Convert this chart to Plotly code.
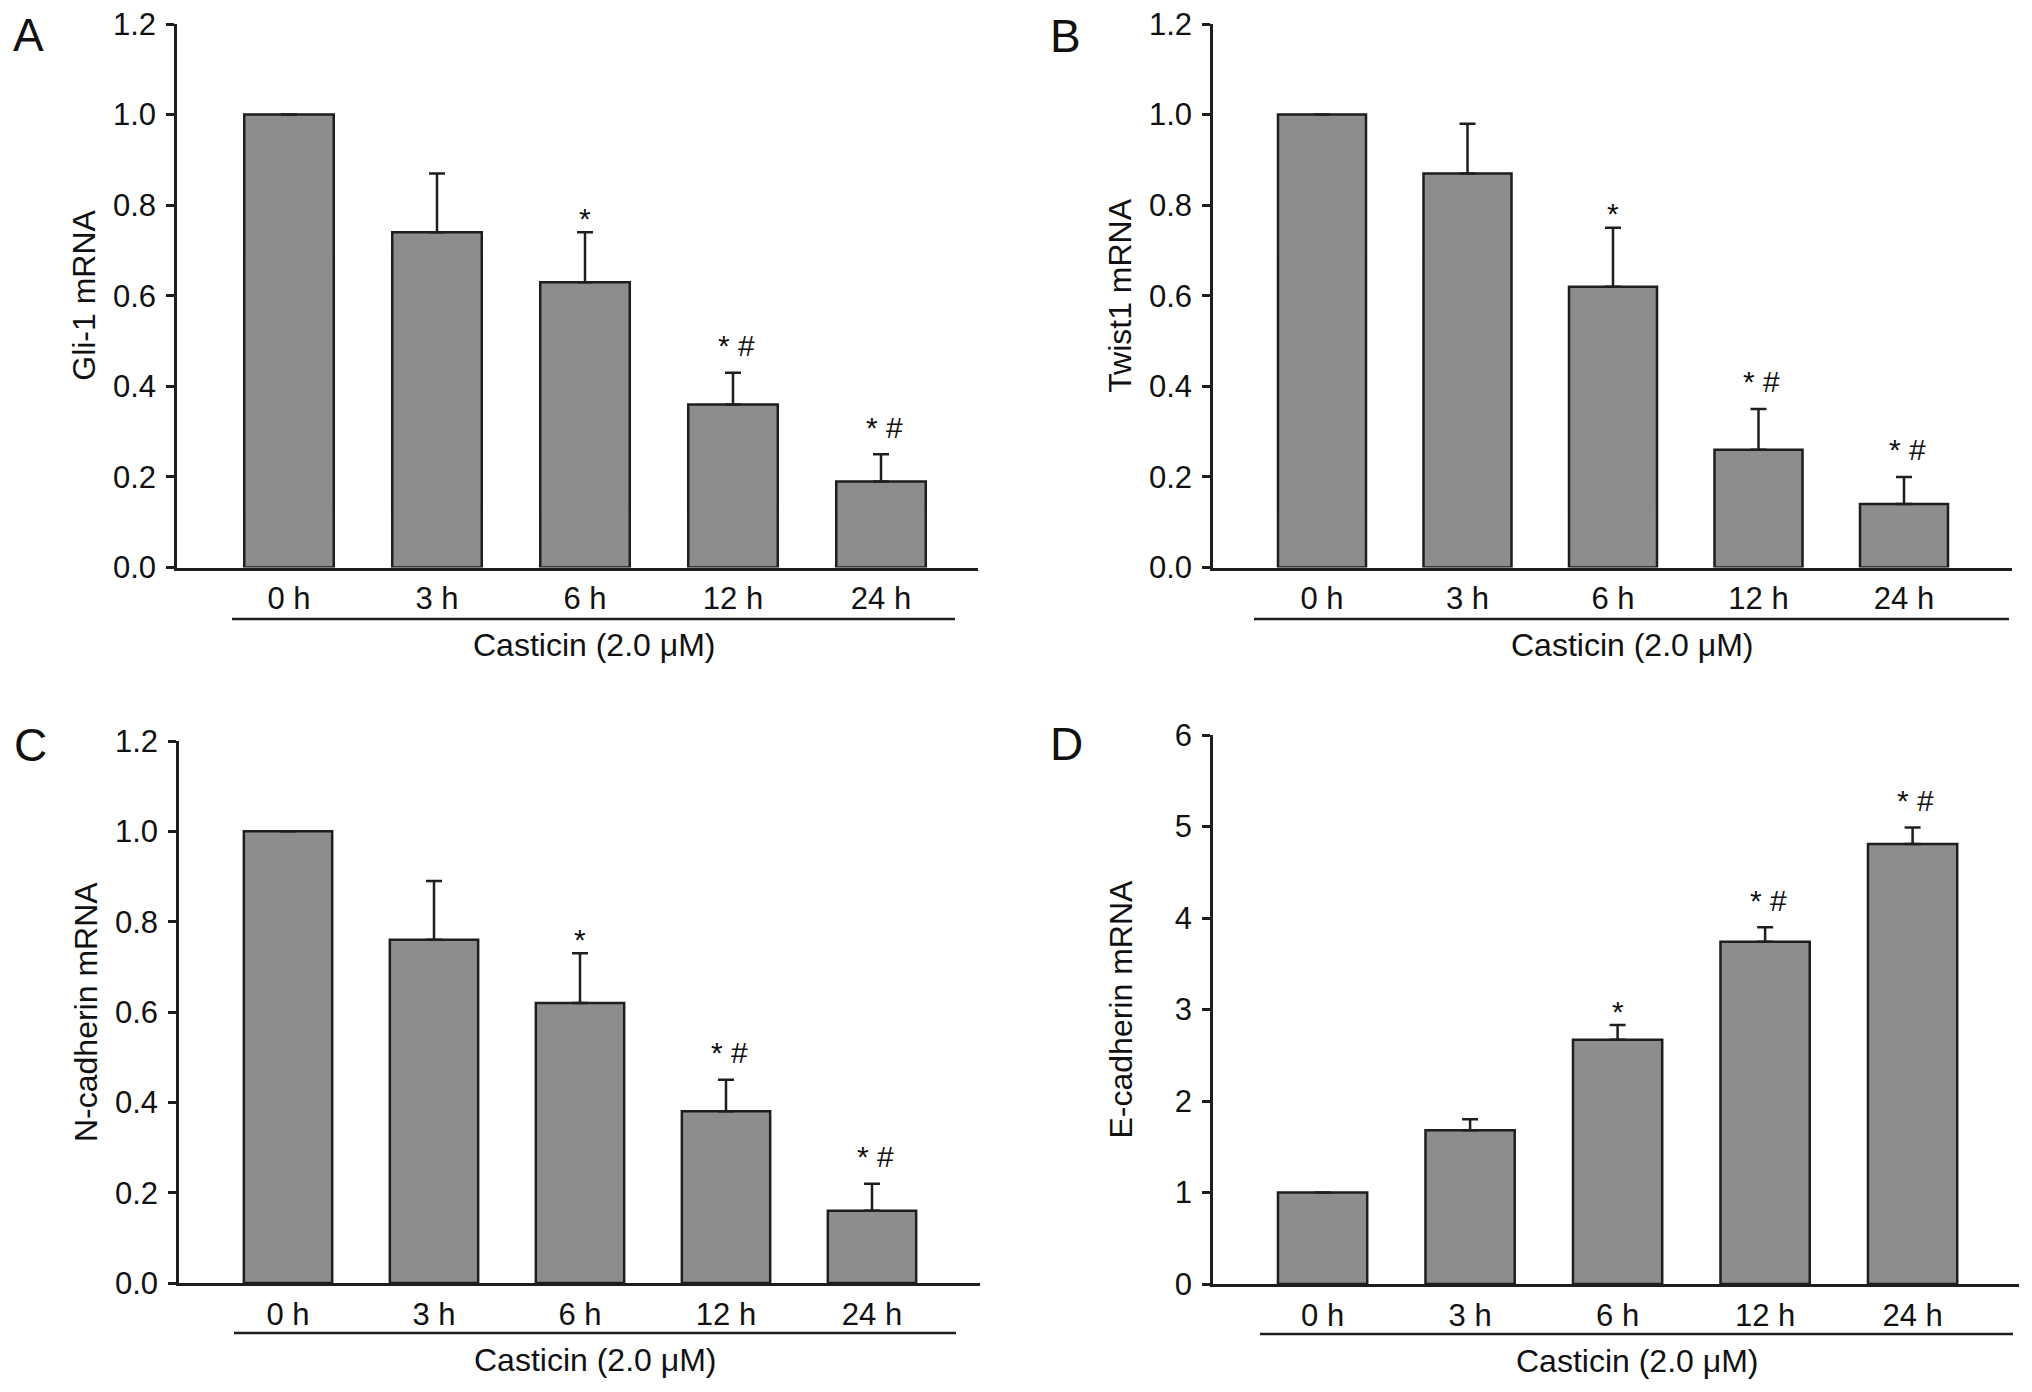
import plotly.graph_objects as go

PAGE_W, PAGE_H = 2032, 1392
OFF = 8  # default body margin of the written page
W, H = PAGE_W - 2 * OFF, PAGE_H - 2 * OFF

categories = ["0 h", "3 h", "6 h", "12 h", "24 h"]

gli1_mean = [1.00, 0.74, 0.63, 0.36, 0.19]
gli1_err = [0.00, 0.13, 0.11, 0.07, 0.06]
twist1_mean = [1.00, 0.87, 0.62, 0.26, 0.14]
twist1_err = [0.00, 0.11, 0.13, 0.09, 0.06]
ncad_mean = [1.00, 0.76, 0.62, 0.38, 0.16]
ncad_err = [0.00, 0.13, 0.11, 0.07, 0.06]
ecad_mean = [1.00, 1.68, 2.67, 3.74, 4.81]
ecad_err = [0.00, 0.12, 0.16, 0.16, 0.18]

significance = ["", "", "*", "* #", "* #"]

panel_letters = ["A", "B", "C", "D"]
y_titles = ["Gli-1 mRNA", "Twist1 mRNA", "N-cadherin mRNA", "E-cadherin mRNA"]
y_ranges = [[0, 1.2], [0, 1.2], [0, 1.2], [0, 6]]
y_ticks = [[0, 0.2, 0.4, 0.6, 0.8, 1.0, 1.2]] * 3 + [[0, 1, 2, 3, 4, 5, 6]]
y_ticktext = [["0.0", "0.2", "0.4", "0.6", "0.8", "1.0", "1.2"]] * 3 + [["0", "1", "2", "3", "4", "5", "6"]]
treatment_label = "Casticin (2.0 \u03bcM)"

means = [gli1_mean, twist1_mean, ncad_mean, ecad_mean]
errs = [gli1_err, twist1_err, ncad_err, ecad_err]

# layout geometry in page pixels: y-axis x, x-axis end, top, bottom, first bar centre, spacing, bracket
geom = [
    dict(x0=177, x1=978, yt=24, yb=567.5, c0=289, sp=148, b0=232, b1=955, by=619, lx=28, ly=35),
    dict(x0=1213, x1=2012, yt=24, yb=567.5, c0=1322, sp=145.5, b0=1254, b1=2009, by=619, lx=1065, ly=36),
    dict(x0=179, x1=980, yt=741, yb=1283, c0=288, sp=146, b0=234, b1=956, by=1333, lx=30, ly=745),
    dict(x0=1213, x1=2019, yt=735, yb=1284, c0=1322.6, sp=147.5, b0=1260, b1=2013, by=1334, lx=1066, ly=744),
]


def px(x):
    return (x - OFF) / W


def py(y):
    return 1 - (y - OFF) / H


FONT = "Liberation Sans, Arial, Helvetica, sans-serif"
INK = "#1e1e1e"

fig = go.Figure()
annotations = []
shapes = []

for i in range(4):
    g = geom[i]
    xa = "x" if i == 0 else f"x{i+1}"
    ya = "y" if i == 0 else f"y{i+1}"
    xkey = "xaxis" if i == 0 else f"xaxis{i+1}"
    ykey = "yaxis" if i == 0 else f"yaxis{i+1}"

    fig.add_trace(go.Bar(
        x=categories, y=means[i], xaxis=xa, yaxis=ya,
        width=0.605,
        marker=dict(color="#8d8d8d", line=dict(color=INK, width=2.5)),
        error_y=dict(type="data", symmetric=False, array=errs[i],
                     arrayminus=[0] * len(categories),
                     color=INK, thickness=2.5, width=8),
        showlegend=False, hoverinfo="skip",
    ))

    xr = [(g["x0"] - g["c0"]) / g["sp"], (g["x1"] - g["c0"]) / g["sp"]]
    fig.update_layout(**{
        xkey: dict(
            domain=[px(g["x0"]), px(g["x1"])], anchor=ya,
            type="category", range=xr, showline=True, linecolor=INK, linewidth=2.5,
            ticks="", showgrid=False, zeroline=False, automargin=False,
            tickfont=dict(family=FONT, size=31, color="#111"),
            ticklabelstandoff=2, ticklabeloverflow="allow",
        ),
        ykey: dict(
            domain=[py(g["yb"]), py(g["yt"])], anchor=xa,
            range=y_ranges[i], tickvals=y_ticks[i], ticktext=y_ticktext[i],
            showline=True, linecolor=INK, linewidth=2.5,
            ticks="outside", ticklen=8, tickwidth=2.5, tickcolor=INK,
            showgrid=False, zeroline=False, automargin=False,
            tickfont=dict(family=FONT, size=31, color="#111"),
            ticklabelstandoff=4, ticklabeloverflow="allow",
        ),
    })

    # y-axis title
    annotations.append(dict(
        text=y_titles[i], xref="paper", yref="paper",
        x=px(g["x0"] - 93), y=py((g["yt"] + g["yb"]) / 2),
        xanchor="center", yanchor="middle", textangle=-90, showarrow=False,
        font=dict(family=FONT, size=32, color="#111"),
    ))
    # panel letter
    annotations.append(dict(
        text=panel_letters[i], xref="paper", yref="paper",
        x=px(g["lx"]), y=py(g["ly"]), xanchor="center", yanchor="middle",
        showarrow=False, font=dict(family=FONT, size=46, color="#111"),
    ))
    # treatment bracket line and label
    bx0 = (g["b0"] - g["c0"]) / g["sp"]
    bx1 = (g["b1"] - g["c0"]) / g["sp"]
    dom_h = g["yb"] - g["yt"]
    yb_dom = -(g["by"] - g["yb"]) / dom_h
    shapes.append(dict(
        type="line", xref=xa, yref=f"{ya} domain", x0=bx0, x1=bx1, y0=yb_dom, y1=yb_dom,
        line=dict(color=INK, width=2.5),
    ))
    annotations.append(dict(
        text=treatment_label, xref="paper", yref="paper",
        x=px((g["b0"] + g["b1"]) / 2), y=py(g["yb"] + 77),
        xanchor="center", yanchor="middle", showarrow=False,
        font=dict(family=FONT, size=32, color="#111"),
    ))
    # significance marks
    for j, c in enumerate(categories):
        s = significance[j]
        if not s:
            continue
        annotations.append(dict(
            text=s, xref=xa, yref=ya, x=c, y=means[i][j] + errs[i][j],
            xanchor="center", yanchor="middle", showarrow=False,
            yshift=14 if s == "*" else 27, xshift=0 if s == "*" else 3,
            font=dict(family=FONT, size=30, color="#111"),
        ))

fig.update_layout(
    width=W, height=H,
    margin=dict(l=0, r=0, t=0, b=0),
    paper_bgcolor="white", plot_bgcolor="white",
    annotations=annotations, shapes=shapes,
    bargap=0.4,
)

fig.write_html("out.html")
